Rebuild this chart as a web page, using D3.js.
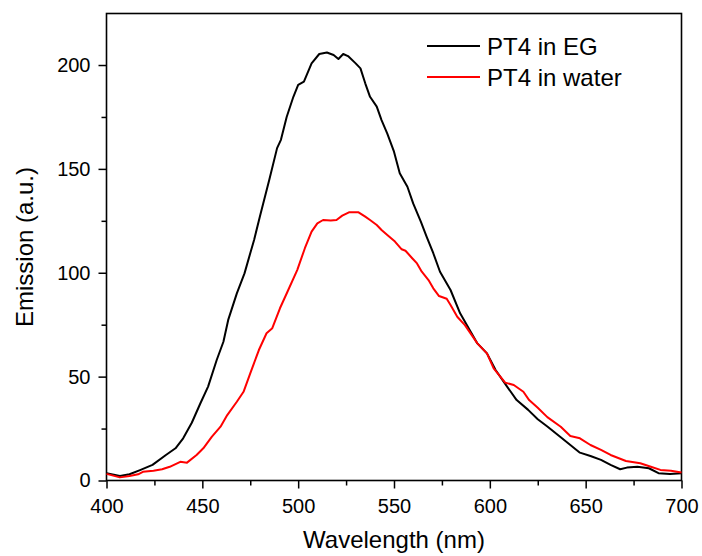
<!DOCTYPE html>
<html>
<head>
<meta charset="utf-8">
<script src="https://cdn.jsdelivr.net/npm/d3@7"></script>
<style>
  body { margin: 0; background: #fff; }
  text { font-family: "Liberation Sans", Arial, sans-serif; fill: #000; }
</style>
</head>
<body>
<div class="chart"></div>
<script>
var svgWidth = 702;
var svgHeight = 556;

var margin = { top: 13.5, right: 20.5, bottom: 75.5, left: 106.5 };
var width = svgWidth - margin.left - margin.right;
var height = svgHeight - margin.top - margin.bottom;

// Data
var egWavelength = [400, 407, 412, 417.5, 424, 431, 436, 440, 444.5, 449, 453, 457.5, 461, 463.5, 468, 472, 475, 477, 480, 485, 489, 491, 494, 497.5, 500, 503, 507, 511, 515, 518.5, 521, 523.5, 526, 530, 532.5, 535, 537.5, 541, 543.5, 546.5, 550, 553, 557, 560, 564, 567, 570.5, 574, 579.5, 584.5, 590, 593.5, 598.5, 603, 609, 614, 620, 625, 630, 637, 642, 647, 652.5, 658, 663, 668, 671.5, 677, 683, 688, 694, 700];
var egEmission = [3.5, 2.2, 3.0, 5.0, 7.5, 12.3, 15.5, 20.3, 27.8, 37.2, 45.2, 58, 66.8, 77.3, 90.1, 99.7, 109.4, 115.8, 127, 145, 160, 164, 175, 184.7, 190.4, 192, 200.8, 205.3, 206, 204.8, 202.9, 205.3, 204.3, 200.8, 198.4, 191.2, 184.7, 180, 173.5, 167, 158.3, 147.9, 141.4, 133.4, 124.6, 117.4, 109.4, 100.5, 91.7, 80.5, 71.6, 66, 61.2, 53.2, 45.2, 38.7, 34, 29.5, 26, 20.8, 17.1, 13.4, 11.8, 9.9, 7.5, 5.4, 6.2, 6.6, 5.9, 3.5, 3.1, 3.5];

var waterWavelength = [400, 407, 412, 416.5, 419, 424.5, 429, 433, 438.5, 442, 447, 450.5, 455, 459.5, 463, 468, 471.5, 475, 479.5, 483.5, 486.5, 490.5, 494, 499.5, 503.5, 507, 510, 513, 517, 520, 523, 526.5, 531.5, 535, 537.5, 541, 543.5, 546.5, 550.5, 554, 556, 559.5, 562, 564.5, 568, 570.5, 573.5, 577.5, 579.5, 583, 587, 593.5, 598.5, 602, 608, 612.5, 617.5, 620.5, 625, 630, 637, 642, 647, 652.5, 658, 663, 671, 678.5, 684, 689, 694.5, 700];
var waterEmission = [3.2, 1.5, 2.2, 3.0, 4.2, 4.7, 5.4, 6.6, 9.0, 8.6, 12.3, 15.5, 21.1, 25.9, 31.5, 37.9, 42.7, 51.6, 62.8, 70.9, 73.3, 82.9, 90, 101.3, 111.8, 119.8, 123.8, 125.4, 125.1, 125.4, 127.5, 129.1, 129.1, 127, 125.4, 123, 120.6, 118.2, 115, 111.3, 110.6, 107, 104.5, 100.5, 96.5, 92.5, 88.8, 87.5, 84.5, 78.8, 74.8, 66, 61.2, 54, 47.1, 46, 42.7, 38.7, 35, 30.5, 25.9, 21.4, 20.3, 17.1, 14.7, 12.3, 9.4, 8.3, 6.6, 5.1, 4.7, 3.8];

var seriesNames = ["PT4 in EG", "PT4 in water"];
var seriesColors = ["#000000", "#ff0000"];
var xTicks = [400, 450, 500, 550, 600, 650, 700];
var yTicks = [0, 50, 100, 150, 200];

var svg = d3.select(".chart")
  .append("svg")
  .attr("width", svgWidth)
  .attr("height", svgHeight);

var chartGroup = svg.append("g")
  .attr("transform", `translate(${margin.left}, ${margin.top})`);

var xScale = d3.scaleLinear().domain([400, 700]).range([0, width]);
var yScale = d3.scaleLinear().domain([0, 224.8]).range([height, 0]);

// minor ticks
chartGroup.append("g")
  .attr("transform", `translate(0, ${height})`)
  .call(d3.axisBottom(xScale).tickValues(d3.range(425, 700, 50)).tickSize(5).tickFormat(""))
  .call(g => g.select(".domain").remove());
chartGroup.append("g")
  .call(d3.axisLeft(yScale).tickValues([25, 75, 125, 175]).tickSize(5).tickFormat(""))
  .call(g => g.select(".domain").remove());

// major ticks
var bottomAxis = d3.axisBottom(xScale).tickValues(xTicks).tickSize(8).tickPadding(10);
var leftAxis = d3.axisLeft(yScale).tickValues(yTicks).tickSize(8).tickPadding(8);

chartGroup.append("g")
  .attr("class", "xaxis")
  .attr("transform", `translate(0, ${height})`)
  .call(bottomAxis);

chartGroup.append("g")
  .attr("class", "yaxis")
  .call(leftAxis);

chartGroup.selectAll(".tick line").attr("stroke", "#000").attr("stroke-width", 1.5);
chartGroup.selectAll(".domain").remove();
chartGroup.selectAll(".tick text")
  .attr("font-size", 20)
  .attr("font-family", "Liberation Sans, Arial, sans-serif")
  .attr("fill", "#000");

// frame
chartGroup.append("rect")
  .attr("x", 0)
  .attr("y", 0)
  .attr("width", width)
  .attr("height", height)
  .attr("fill", "none")
  .attr("stroke", "#000")
  .attr("stroke-width", 1.6);

// lines
var line = d3.line()
  .x(d => xScale(d[0]))
  .y(d => yScale(d[1]));

var egData = d3.zip(egWavelength, egEmission);
var waterData = d3.zip(waterWavelength, waterEmission);

chartGroup.append("path")
  .datum(egData)
  .attr("d", line)
  .attr("fill", "none")
  .attr("stroke", seriesColors[0])
  .attr("stroke-width", 2)
  .attr("stroke-linejoin", "round");

chartGroup.append("path")
  .datum(waterData)
  .attr("d", line)
  .attr("fill", "none")
  .attr("stroke", seriesColors[1])
  .attr("stroke-width", 2)
  .attr("stroke-linejoin", "round");

// legend
var legend = svg.append("g");
seriesNames.forEach(function(name, i) {
  var y = 46 + i * 31;
  legend.append("line")
    .attr("x1", 427).attr("x2", 480)
    .attr("y1", y).attr("y2", y)
    .attr("stroke", seriesColors[i])
    .attr("stroke-width", 2);
  legend.append("text")
    .attr("x", 487)
    .attr("y", y + 8.5)
    .attr("font-size", 24)
    .text(name);
});

// axis titles
svg.append("text")
  .attr("x", margin.left + width / 2)
  .attr("y", 548)
  .attr("text-anchor", "middle")
  .attr("font-size", 24)
  .text("Wavelength (nm)");

svg.append("text")
  .attr("transform", `translate(33, ${margin.top + height / 2}) rotate(-90)`)
  .attr("text-anchor", "middle")
  .attr("font-size", 24)
  .text("Emission (a.u.)");
</script>
</body>
</html>
